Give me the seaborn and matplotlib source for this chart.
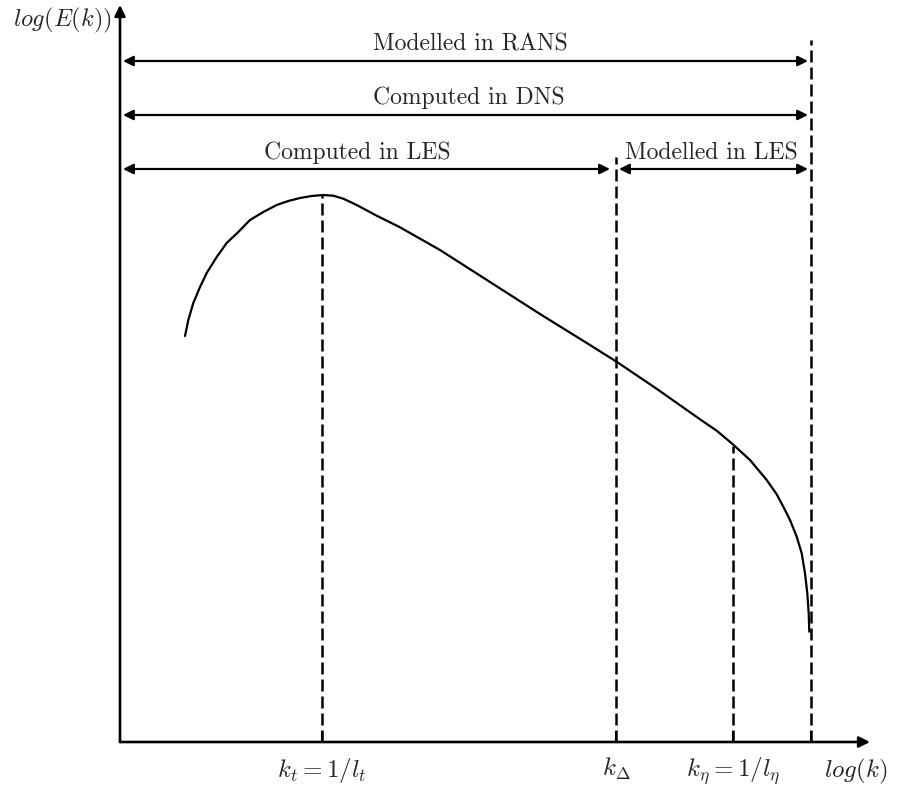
import numpy as np
import pandas as pd
import matplotlib
matplotlib.use("Agg")
import matplotlib.pyplot as plt
import seaborn as sns

# Energy spectrum sketch (arbitrary log units)
log_k = [0.65, 0.683, 0.733, 0.80, 0.867, 0.967, 1.067, 1.183, 1.30, 1.433,
         1.567, 1.683, 1.80, 1.917, 2.033, 2.133, 2.233, 2.367, 2.567, 2.80,
         3.20, 3.70, 4.20, 4.70, 4.97, 5.37, 5.80, 5.967, 6.117, 6.30, 6.467,
         6.567, 6.633, 6.70, 6.767, 6.817, 6.85, 6.873, 6.887, 6.893]
log_E = [4.06, 4.22, 4.39, 4.55, 4.69, 4.85, 4.99, 5.10, 5.22, 5.30,
         5.37, 5.41, 5.44, 5.46, 5.47, 5.463, 5.433, 5.37, 5.263, 5.147,
         4.92, 4.60, 4.28, 3.97, 3.80, 3.53, 3.227, 3.113, 2.987, 2.82, 2.62,
         2.477, 2.353, 2.22, 2.053, 1.887, 1.687, 1.487, 1.287, 1.103]

# characteristic wavenumbers and the height of their dashed markers
k_marks = [2.02, 4.96, 6.13, 6.91]
k_tops = [5.47, 5.85, 2.96, 7.02]
tick_labels = [r"$k_t = 1/l_t$", r"$k_\Delta$", r"$k_\eta = 1/l_\eta$", ""]

# range arrows: (label, start, end, height)
ranges = [("Modelled in RANS", 0.03, 6.88, 6.81),
          ("Computed in DNS", 0.03, 6.88, 6.27),
          ("Computed in LES", 0.03, 4.90, 5.73),
          ("Modelled in LES", 4.99, 6.88, 5.73)]
label_pos = [(3.50, 6.92), (3.49, 6.38), (2.37, 5.83), (5.91, 5.83)]

sns.set_theme(style="white")
plt.rcParams["font.family"] = ["cmr10", "DejaVu Serif"]
plt.rcParams["mathtext.fontset"] = "cm"
plt.rcParams["axes.unicode_minus"] = False

fig = plt.figure(figsize=(8.99, 7.87), dpi=100)
ax = fig.add_axes([120 / 899, 45 / 787, 750 / 899, 737 / 787])
ax.set_xlim(0, 7.5)
ax.set_ylim(0, 7.37)
for s in ax.spines.values():
    s.set_visible(False)

df = pd.DataFrame({"log_k": log_k, "log_E": log_E})
sns.lineplot(data=df, x="log_k", y="log_E", color="black", lw=1.6, sort=False,
             estimator=None, ax=ax)

for k, top in zip(k_marks, k_tops):
    ax.plot([k, k], [0, top], color="black", lw=1.8, dashes=(4.8, 2.0),
            clip_on=False)

# axes with arrow heads
ax.annotate("", xy=(7.5, 0), xytext=(0, 0),
            arrowprops=dict(arrowstyle="-|>", lw=1.9, color="black",
                            mutation_scale=16, shrinkA=0, shrinkB=0),
            annotation_clip=False)
ax.annotate("", xy=(0, 7.37), xytext=(0, 0),
            arrowprops=dict(arrowstyle="-|>", lw=1.9, color="black",
                            mutation_scale=16, shrinkA=0, shrinkB=0),
            annotation_clip=False)

for (lab, x0, x1, y), (tx, ty) in zip(ranges, label_pos):
    ax.annotate("", xy=(x1, y), xytext=(x0, y),
                arrowprops=dict(arrowstyle="<|-|>", lw=1.6, color="black",
                                mutation_scale=15, shrinkA=0, shrinkB=0),
                annotation_clip=False)
    ax.text(tx, ty, lab, ha="center", va="baseline", fontsize=17)

ax.set_xticks(k_marks)
ax.set_xticklabels(tick_labels, fontsize=18)
ax.tick_params(axis="x", direction="in", length=8, width=1.5, pad=10,
               color="black", bottom=True)
ax.set_yticks([])
ax.set_xlabel("")
ax.set_ylabel("")

ax.text(7.36, -0.29, r"$log(k)$", ha="center", va="center", fontsize=18,
        clip_on=False)
ax.text(-0.08, 7.22, r"$log(E(k))$", ha="right", va="center", fontsize=17.5,
        clip_on=False)

fig.savefig("out.png", dpi=100)
